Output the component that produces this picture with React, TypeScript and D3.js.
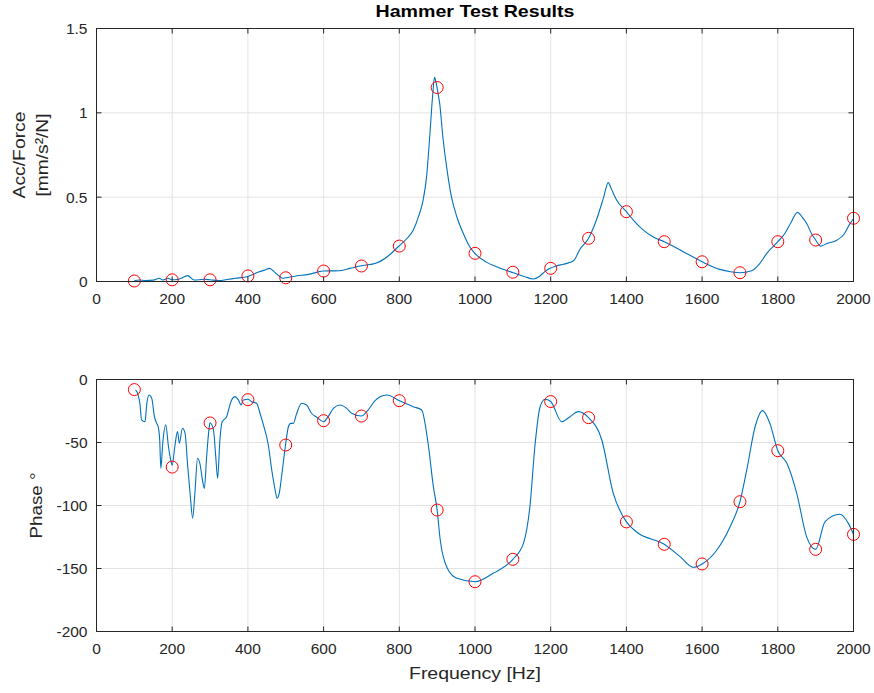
import React from "react";
import * as d3 from "d3";

// ---- Data ----
const magFreq = [100,113,130,150,166,175,188,200,215,223,241,258,270,285,300,324,345,368,400,430,445,457,466,474,485,492,500,527,560,599,620,643,670,696,740,770,797,820,837,850,863,872,881,888,893,897,902,907,915,925,938,952,970,985,1000,1030,1057,1080,1101,1130,1154,1170,1185,1198,1215,1233,1250,1262,1277,1300,1320,1340,1352,1360,1374,1400,1420,1445,1470,1500,1550,1600,1647,1675,1700,1731,1750,1771,1800,1819,1835,1852,1865,1876,1890,1900,1913,1930,1956,1975,1990,2000];
const magVal = [0.004,0.009,0.006,0.008,0.019,0.009,0.019,0.010,0.012,0.019,0.035,0.009,0.010,0.013,0.010,0.005,0.012,0.019,0.030,0.058,0.068,0.078,0.065,0.048,0.028,0.019,0.022,0.033,0.042,0.062,0.063,0.064,0.078,0.092,0.110,0.150,0.206,0.255,0.305,0.380,0.483,0.620,0.879,1.100,1.210,1.180,1.120,1.050,0.860,0.680,0.500,0.384,0.280,0.210,0.165,0.115,0.088,0.068,0.052,0.030,0.015,0.030,0.060,0.078,0.092,0.102,0.112,0.127,0.190,0.256,0.360,0.500,0.586,0.550,0.483,0.414,0.360,0.305,0.265,0.236,0.177,0.117,0.072,0.058,0.052,0.064,0.100,0.167,0.236,0.286,0.350,0.410,0.380,0.345,0.280,0.246,0.210,0.225,0.245,0.280,0.340,0.372];

const phaseFreq = [103,110,115,119,128,133,139,146,153,159,163,167,170,175,183,190,197,200,207,214,219,227,234,241,248,254,260,267,274,280,285,291,297,300,309,315,320,326,332,344,350,357,366,375,382,388,400,410,423,432,441,454,463,472,477,483,489,500,507,513,520,529,542,555,568,582,600,612,626,643,661,674,700,714,736,749,767,800,837,859,876,890,900,908,925,952,1000,1048,1100,1128,1145,1159,1172,1185,1200,1229,1251,1273,1300,1335,1365,1400,1427,1500,1542,1577,1600,1639,1674,1700,1718,1740,1760,1779,1800,1824,1850,1876,1900,1925,1964,1986,2000];
const phaseVal = [-8.3,-12.3,-20,-32,-33.5,-18.9,-12.3,-15,-29.5,-34.8,-37.5,-48,-70.5,-50.6,-36,-53,-65,-68,-53,-41.4,-50.6,-38.7,-42.7,-69,-93,-110,-90,-62.5,-67.9,-79.8,-86.4,-61.3,-40,-34.3,-40,-61,-78.4,-48,-33.5,-29.5,-22.9,-16.3,-13.6,-16.3,-20.2,-16.3,-15.7,-17.6,-18.9,-26.8,-36,-52,-71.8,-87.7,-94.3,-90,-77,-50.6,-37.5,-34.8,-34.8,-26.8,-18.9,-20.2,-26.8,-30,-33.5,-29.5,-22.9,-20.2,-22.9,-26.8,-29,-25.5,-16.8,-13.6,-12.3,-16.8,-21.6,-24.2,-50.6,-85,-103.6,-127,-148.6,-157.8,-160.5,-153.8,-142.7,-130,-101,-50.6,-21.6,-15.7,-17.5,-33.5,-29.5,-25.5,-30.3,-48,-90,-113,-121,-130.8,-140.6,-149,-146.4,-135.3,-116.8,-97,-71.8,-37.5,-24.7,-34.8,-56.5,-66.5,-90.3,-124.7,-134.8,-112.8,-107,-114,-122.9];

const markFreq = [100,200,300,400,500,600,700,800,900,1000,1100,1200,1300,1400,1500,1600,1700,1800,1900,2000];
const markMag = [0.003,0.01,0.01,0.033,0.022,0.062,0.092,0.21,1.15,0.167,0.055,0.078,0.256,0.414,0.236,0.117,0.052,0.236,0.246,0.375];
const markPhase = [-8,-69.5,-34.5,-16,-52,-32.7,-29,-16.8,-103.6,-160.5,-142.7,-17.5,-30.3,-113,-130.8,-146.4,-97,-56.5,-134.8,-122.9];

const xTicks = [0,200,400,600,800,1000,1200,1400,1600,1800,2000];
const magTicks = [0,0.5,1,1.5];
const phaseTicks = [-200,-150,-100,-50,0];

const W = 874, H = 693;
const X0 = 96.5, X1 = 853.5;
const TOP = { y0: 28.5, y1: 281.5 };
const BOT = { y0: 379.5, y1: 631.5 };
const FONT = "'Liberation Sans', Arial, Helvetica, sans-serif";
const TXT = "#262626";
const LINE = "#0072BD";

type Panel = {
  yScale: d3.ScaleLinear<number, number>;
  yTicks: number[];
  fmt: (v: number) => string;
  y0: number; y1: number;
  fx: number[]; fy: number[];
  mx: number[]; my: number[];
};

function Axes({ p, x }: { p: Panel; x: d3.ScaleLinear<number, number> }) {
  const line = d3.line<number>()
    .x((_, i) => x(p.fx[i]))
    .y((d) => p.yScale(d))
    .curve(d3.curveMonotoneX);
  const tl = 5;
  return (
    <g>
      {xTicks.map((t) => (
        <line key={"gx" + t} x1={x(t)} x2={x(t)} y1={p.y0} y2={p.y1} stroke="#e3e3e3" strokeWidth={1} />
      ))}
      {p.yTicks.map((t) => (
        <line key={"gy" + t} x1={X0} x2={X1} y1={p.yScale(t)} y2={p.yScale(t)} stroke="#e3e3e3" strokeWidth={1} />
      ))}
      <path d={line(p.fy) || ""} fill="none" stroke={LINE} strokeWidth={1.1} />
      {p.mx.map((f, i) => (
        <circle key={"m" + i} cx={x(f)} cy={p.yScale(p.my[i])} r={6} fill="none" stroke="#ff0000" strokeWidth={1} />
      ))}
      <rect x={X0} y={p.y0} width={X1 - X0} height={p.y1 - p.y0} fill="none" stroke={TXT} strokeWidth={1} />
      {xTicks.map((t) => (
        <g key={"tx" + t}>
          <line x1={x(t)} x2={x(t)} y1={p.y1} y2={p.y1 - tl} stroke={TXT} />
          <line x1={x(t)} x2={x(t)} y1={p.y0} y2={p.y0 + tl} stroke={TXT} />
          <text x={x(t)} y={p.y1 + 22.5} textAnchor="middle" fontSize={15.5} fill={TXT} fontFamily={FONT}>{t}</text>
        </g>
      ))}
      {p.yTicks.map((t) => (
        <g key={"ty" + t}>
          <line x1={X0} x2={X0 + tl} y1={p.yScale(t)} y2={p.yScale(t)} stroke={TXT} />
          <line x1={X1} x2={X1 - tl} y1={p.yScale(t)} y2={p.yScale(t)} stroke={TXT} />
          <text x={87.5} y={p.yScale(t) + 5.5} textAnchor="end" fontSize={15.5} fill={TXT} fontFamily={FONT}>{p.fmt(t)}</text>
        </g>
      ))}
    </g>
  );
}

export default function App() {
  const x = d3.scaleLinear().domain([0, 2000]).range([X0, X1]);
  const yMag = d3.scaleLinear().domain([0, 1.5]).range([TOP.y1, TOP.y0]);
  const yPh = d3.scaleLinear().domain([-200, 0]).range([BOT.y1, BOT.y0]);
  const top: Panel = {
    yScale: yMag, yTicks: magTicks, fmt: (v) => String(v),
    y0: TOP.y0, y1: TOP.y1, fx: magFreq, fy: magVal, mx: markFreq, my: markMag,
  };
  const bot: Panel = {
    yScale: yPh, yTicks: phaseTicks, fmt: (v) => String(v),
    y0: BOT.y0, y1: BOT.y1, fx: phaseFreq, fy: phaseVal, mx: markFreq, my: markPhase,
  };
  const topMid = (TOP.y0 + TOP.y1) / 2;
  const botMid = (BOT.y0 + BOT.y1) / 2;
  return (
    <svg width={W} height={H} style={{ position: "absolute", left: 0, top: 0, display: "block", background: "#fff" }}>
      <rect x={0} y={0} width={W} height={H} fill="#fff" />
      <Axes p={top} x={x} />
      <Axes p={bot} x={x} />
      <text x={(X0 + X1) / 2} y={17} textAnchor="middle" fontWeight="bold" fontSize={17} fill="#000" fontFamily={FONT}
        textLength={199} lengthAdjust="spacingAndGlyphs">Hammer Test Results</text>
      <text transform={`translate(25,${topMid}) rotate(-90)`} textAnchor="middle" fontSize={17} fill={TXT} fontFamily={FONT}
        textLength={87} lengthAdjust="spacingAndGlyphs">Acc/Force</text>
      <text transform={`translate(48,${topMid}) rotate(-90)`} textAnchor="middle" fontSize={17} fill={TXT} fontFamily={FONT}
        textLength={83} lengthAdjust="spacingAndGlyphs">[mm/s²/N]</text>
      <text transform={`translate(42,${botMid}) rotate(-90)`} textAnchor="middle" fontSize={17} fill={TXT} fontFamily={FONT}
        textLength={66} lengthAdjust="spacingAndGlyphs">Phase °</text>
      <text x={(X0 + X1) / 2} y={679} textAnchor="middle" fontSize={17} fill={TXT} fontFamily={FONT}
        textLength={132} lengthAdjust="spacingAndGlyphs">Frequency [Hz]</text>
    </svg>
  );
}
